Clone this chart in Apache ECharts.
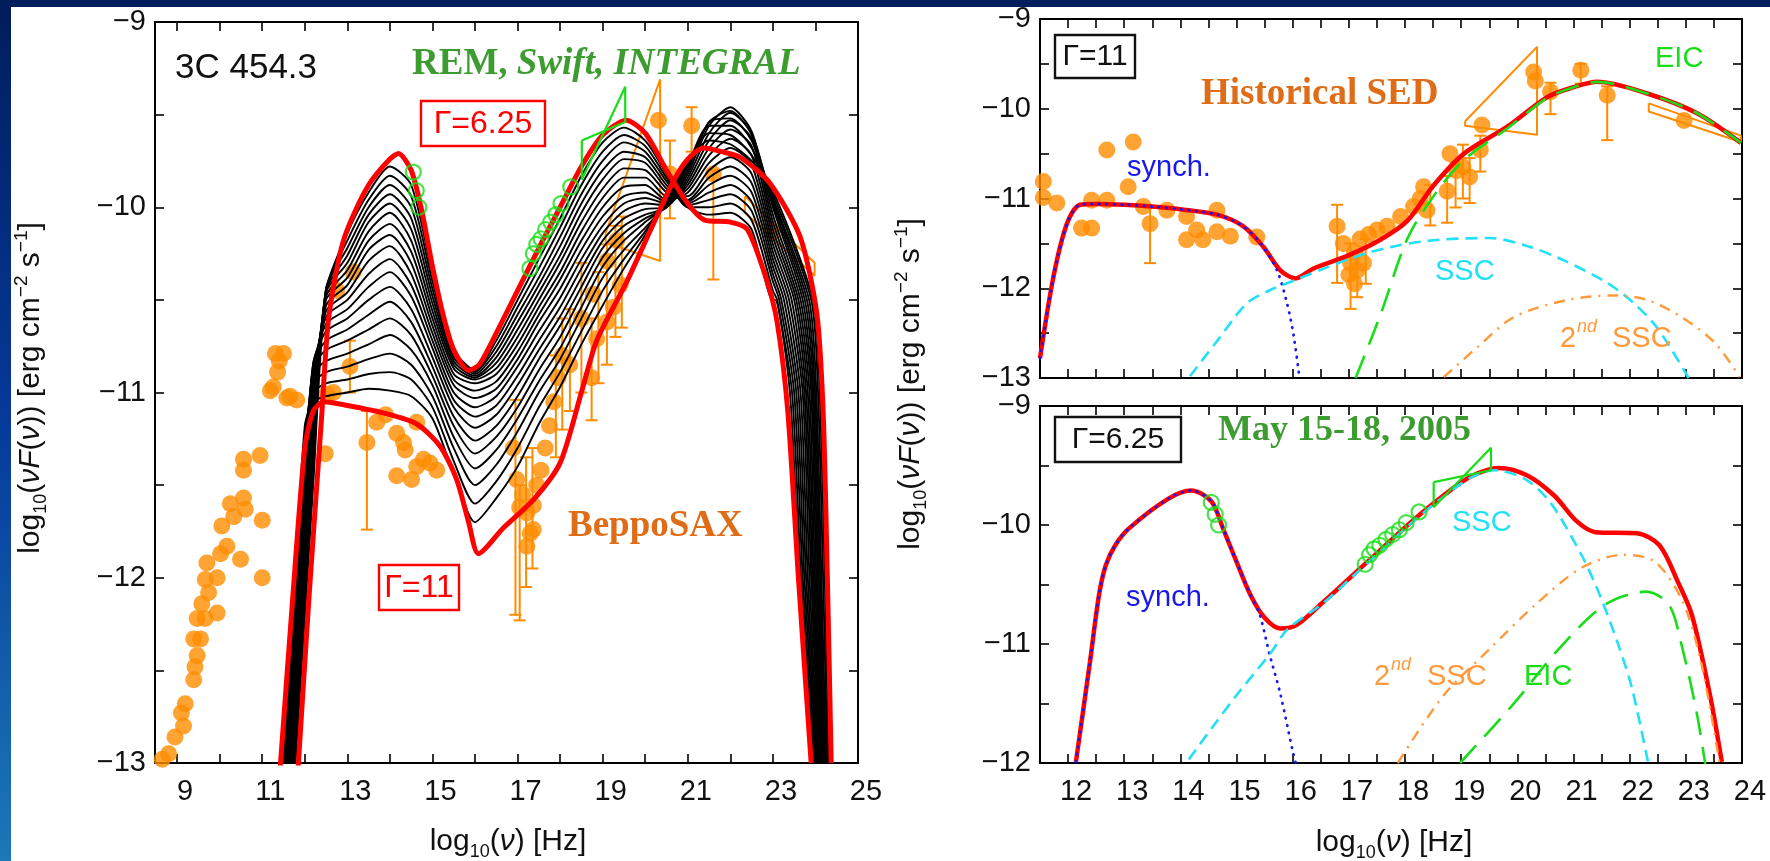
<!DOCTYPE html>
<html><head><meta charset="utf-8">
<script src="https://cdn.jsdelivr.net/npm/echarts@6/dist/echarts.min.js"></script>
<style>html,body{margin:0;padding:0;background:#fff;}#c{width:1770px;height:861px;}</style>
</head><body><div id="c"></div>
<script>
// ---------------- DATA ----------------
// Left panel axis ticks
const LEFT_X_TICKS = [9,10,11,12,13,14,15,16,17,18,19,20,21,22,23,24,25];
const LEFT_X_LABELS = [9,11,13,15,17,19,21,23,25];

// Black model curves (left panel): common x grid + per-curve y, then tail crossing points
const BLACK_X = [11.4,11.7,12.0,12.2,12.5,13.0,13.5,14.0,14.5,15.0,15.5,16.0,16.5,17.0,17.5,18.0,18.5,19.0,19.5,20.0,20.5,21.0,21.5,22.0,22.5,23.0];
const BLACK_CURVES_Y = [
 [-14.37,-13.29,-12.21,-11.49,-10.45,-10.14,-9.92,-9.78,-9.88,-10.36,-10.77,-10.88,-10.72,-10.5,-10.28,-10.06,-9.83,-9.65,-9.57,-9.64,-9.82,-10.0,-10.04,-10.03,-10.12,-10.5],
 [-14.3,-13.22,-12.14,-11.42,-10.44,-10.18,-9.96,-9.83,-9.94,-10.4,-10.79,-10.89,-10.75,-10.54,-10.33,-10.11,-9.88,-9.7,-9.61,-9.67,-9.84,-10.0,-10.0,-9.98,-10.07,-10.45],
 [-14.22,-13.14,-12.06,-11.34,-10.44,-10.22,-10.0,-9.88,-10.0,-10.44,-10.81,-10.9,-10.78,-10.58,-10.38,-10.16,-9.93,-9.75,-9.65,-9.7,-9.86,-9.99,-9.96,-9.93,-10.02,-10.4],
 [-14.15,-13.07,-11.99,-11.27,-10.45,-10.26,-10.04,-9.93,-10.06,-10.48,-10.83,-10.91,-10.81,-10.62,-10.42,-10.21,-9.98,-9.8,-9.7,-9.73,-9.88,-9.98,-9.92,-9.88,-9.97,-10.36],
 [-14.08,-13.0,-11.92,-11.2,-10.46,-10.3,-10.08,-9.98,-10.12,-10.52,-10.85,-10.92,-10.84,-10.66,-10.46,-10.26,-10.03,-9.85,-9.74,-9.76,-9.9,-9.97,-9.88,-9.83,-9.92,-10.32],
 [-14.01,-12.93,-11.85,-11.13,-10.48,-10.34,-10.13,-10.03,-10.18,-10.56,-10.87,-10.93,-10.87,-10.7,-10.5,-10.3,-10.08,-9.9,-9.79,-9.8,-9.92,-9.96,-9.84,-9.78,-9.87,-10.28],
 [-13.97,-12.89,-11.81,-11.09,-10.5,-10.38,-10.18,-10.09,-10.24,-10.6,-10.9,-10.95,-10.9,-10.74,-10.54,-10.35,-10.13,-9.95,-9.84,-9.84,-9.94,-9.94,-9.8,-9.73,-9.82,-10.24],
 [-13.9,-12.82,-11.74,-11.03,-10.53,-10.42,-10.23,-10.15,-10.3,-10.64,-10.93,-10.99,-10.94,-10.78,-10.58,-10.39,-10.18,-10.0,-9.89,-9.88,-9.96,-9.92,-9.76,-9.68,-9.77,-10.2],
 [-13.83,-12.75,-11.67,-10.97,-10.56,-10.46,-10.29,-10.21,-10.36,-10.68,-10.96,-11.03,-10.98,-10.82,-10.62,-10.44,-10.23,-10.05,-9.94,-9.92,-9.97,-9.9,-9.72,-9.63,-9.72,-10.16],
 [-13.79,-12.71,-11.63,-10.93,-10.59,-10.5,-10.36,-10.28,-10.42,-10.72,-11.0,-11.08,-11.02,-10.86,-10.67,-10.49,-10.28,-10.1,-9.98,-9.95,-9.98,-9.88,-9.68,-9.58,-9.67,-10.12],
 [-13.72,-12.64,-11.56,-10.87,-10.63,-10.55,-10.43,-10.35,-10.48,-10.76,-11.04,-11.13,-11.07,-10.91,-10.72,-10.54,-10.33,-10.14,-10.02,-9.98,-9.99,-9.86,-9.64,-9.53,-9.63,-10.08],
 [-13.65,-12.57,-11.49,-10.84,-10.67,-10.6,-10.5,-10.43,-10.55,-10.81,-11.08,-11.19,-11.12,-10.96,-10.77,-10.59,-10.38,-10.18,-10.06,-10.01,-10.0,-9.84,-9.6,-9.49,-9.6,-10.04],
 [-13.61,-12.53,-11.45,-10.84,-10.72,-10.66,-10.58,-10.51,-10.62,-10.86,-11.13,-11.26,-11.18,-11.02,-10.82,-10.64,-10.43,-10.22,-10.1,-10.04,-10.0,-9.82,-9.56,-9.46,-9.59,-10.0],
 [-13.54,-12.46,-11.38,-10.86,-10.77,-10.72,-10.66,-10.6,-10.69,-10.91,-11.18,-11.33,-11.24,-11.08,-10.88,-10.7,-10.48,-10.27,-10.14,-10.06,-10.0,-9.8,-9.54,-9.48,-9.61,-9.98],
 [-13.5,-12.42,-11.34,-10.9,-10.83,-10.79,-10.74,-10.69,-10.77,-10.96,-11.24,-11.41,-11.31,-11.14,-10.94,-10.76,-10.54,-10.32,-10.18,-10.08,-9.99,-9.78,-9.54,-9.52,-9.64,-9.96],
 [-13.43,-12.35,-11.27,-10.95,-10.89,-10.86,-10.82,-10.79,-10.85,-11.02,-11.3,-11.5,-11.39,-11.21,-11.0,-10.82,-10.6,-10.38,-10.23,-10.11,-9.98,-9.77,-9.56,-9.56,-9.68,-9.95],
 [-13.4,-12.31,-11.23,-11.0,-10.95,-10.93,-10.9,-10.89,-10.93,-11.08,-11.37,-11.6,-11.48,-11.3,-11.08,-10.89,-10.67,-10.45,-10.28,-10.13,-9.97,-9.76,-9.6,-9.61,-9.72,-9.93],
 [-13.36,-12.28,-11.18,-11.05,-11.02,-11.0,-10.98,-10.99,-11.02,-11.14,-11.44,-11.7,-11.57,-11.4,-11.17,-10.97,-10.74,-10.53,-10.33,-10.15,-9.95,-9.75,-9.64,-9.66,-9.75,-9.91]
];
const TAIL_Y = [-10.5,-11,-12,-13];
const BLACK_TAIL_X = [
 [23.05,23.4,23.62,23.92],[23.1,23.45,23.66,23.95],[23.15,23.5,23.7,23.97],[23.2,23.55,23.74,24.0],
 [23.26,23.6,23.78,24.02],[23.32,23.65,23.82,24.04],[23.38,23.7,23.86,24.06],[23.44,23.74,23.9,24.08],
 [23.5,23.78,23.93,24.1],[23.55,23.82,23.96,24.12],[23.6,23.86,23.99,24.14],[23.65,23.9,24.02,24.16],
 [23.7,23.93,24.05,24.18],[23.75,23.96,24.08,24.2],[23.8,23.99,24.11,24.22],[23.85,24.02,24.14,24.25],
 [23.9,24.06,24.18,24.28],[23.94,24.1,24.22,24.31]
];

// Red model curves, left panel
const RED625_X = [11.4,11.85,12.1,12.39,12.55,12.8,13.0,13.5,14.0,14.2,14.5,14.75,15.0,15.25,15.5,15.85,16.1,16.5,17.0,17.5,18.0,18.5,19.0,19.55,20.0,20.5,21.0,21.4,22.0,22.4,22.85,23.1,23.35,23.6,23.9];
const RED625_Y = [-14.6,-13.0,-12.1,-11.15,-10.62,-10.28,-10.12,-9.88,-9.74,-9.71,-9.8,-10.02,-10.32,-10.58,-10.77,-10.88,-10.85,-10.68,-10.45,-10.22,-10.0,-9.78,-9.61,-9.53,-9.6,-9.8,-9.98,-10.07,-10.08,-10.12,-10.39,-10.62,-11.1,-12.0,-13.0];
const RED11_X = [11.3,11.43,11.7,12.0,12.2,12.45,13.0,13.84,14.63,15.18,15.57,15.85,16.08,16.67,17.37,18.0,18.5,18.86,19.57,20.19,20.66,21.0,21.37,21.8,22.23,22.93,23.64,24.03,24.18,24.28,24.37];
const RED11_Y = [-13.4,-13.0,-12.16,-11.3,-11.1,-11.05,-11.07,-11.11,-11.17,-11.29,-11.47,-11.7,-11.87,-11.73,-11.58,-11.38,-11.0,-10.72,-10.4,-10.09,-9.86,-9.74,-9.68,-9.7,-9.73,-9.87,-10.16,-10.57,-11.1,-12.0,-13.0];

// Observed data, left panel
const LEFT_POINTS = [
 [8.65,-12.98],[8.8,-12.95],[8.95,-12.86],[9.1,-12.73],[9.15,-12.8],[9.19,-12.68],[9.39,-12.55],[9.42,-12.48],[9.47,-12.42],
 [9.39,-12.33],[9.55,-12.33],[9.47,-12.22],[9.66,-12.22],[9.58,-12.14],[9.94,-12.19],[9.74,-12.08],[9.66,-12.01],[9.94,-12.0],
 [9.7,-11.92],[10.02,-11.87],[10.17,-11.83],[10.49,-11.9],[10.05,-11.72],[10.33,-11.67],[10.25,-11.6],[10.56,-11.57],[10.6,-11.63],
 [11.0,-11.69],[11.0,-12.0],[10.56,-11.36],[10.56,-11.42],[10.95,-11.34],[11.19,-10.99],[11.31,-10.79],[11.4,-10.83],[11.36,-10.89],
 [11.58,-11.03],[11.5,-10.79],[11.26,-10.97],[11.65,-11.02],[11.81,-11.04],
 [12.52,-11.01],[12.48,-11.33],[12.75,-10.45],[13.14,-10.35],[12.67,-11.0],[13.06,-10.86],[13.46,-11.27],[13.69,-11.16],[14.16,-11.22],
 [14.36,-11.31],[14.63,-11.16],[14.79,-11.36],[14.16,-11.45],[14.51,-11.47],[14.94,-11.38],[15.1,-11.42],[14.63,-11.4],[14.32,-11.27],[13.9,-11.12],
 [16.9,-11.3],[16.98,-11.47],[17.05,-11.62],[17.12,-11.55],[17.22,-11.65],[17.22,-11.83],[17.3,-11.76],[17.37,-11.61],[17.37,-11.74],
 [17.45,-11.5],[17.55,-11.42],[17.65,-11.3],[17.75,-11.18],[17.85,-11.05],[17.95,-10.92],[18.05,-10.8],[18.23,-10.85],[18.5,-10.6],
 [18.74,-10.92],[18.78,-10.47],[18.86,-10.71],[19.1,-10.62],[19.1,-10.29],[19.25,-10.54],[19.33,-10.18],[19.41,-10.42],
 [20.31,-9.53],[21.09,-9.56],[20.58,-9.82],[21.6,-9.82],[22.97,-10.13]
];
const LEFT_ERRORS = [
 [13.46,-11.74,-11.1],[13.06,-11.0,-10.72],[16.95,-12.2,-11.04],[17.05,-12.23,-11.5],[17.2,-12.05,-11.35],[17.35,-11.95,-11.3],
 [17.9,-11.35,-10.8],[18.05,-11.2,-10.6],[18.23,-11.1,-10.55],[18.5,-11.0,-10.3],[18.74,-11.15,-10.6],[18.9,-10.95,-10.35],
 [19.1,-10.85,-10.2],[19.3,-10.7,-10.1],[19.45,-10.65,-10.05],[20.58,-10.06,-9.64],[21.09,-9.7,-9.46],[21.6,-10.39,-9.8]
];
const BOWTIE_GAMMA = [[19.07,-10.14],[20.35,-9.31],[20.35,-10.29],[19.07,-10.19],[19.07,-10.14]];
const BOWTIE_HIGH = [[22.34,-9.94],[23.98,-10.3],[23.98,-10.37],[22.34,-10.03],[22.34,-9.94]];

// Simultaneous data (May 2005)
const GREEN_CIRCLES = [[14.55,-9.81],[14.62,-9.91],[14.68,-10.0],[17.29,-10.33],[17.37,-10.25],[17.45,-10.2],[17.55,-10.17],[17.66,-10.12],[17.78,-10.08],[17.9,-10.04],[18.02,-9.98],[18.25,-9.89]];
const GREEN_BOWTIE = [[18.51,-9.64],[19.53,-9.54],[19.53,-9.35],[18.51,-9.85],[18.51,-9.64]];

// Top-right panel (Gamma = 11, historical SED)
const TR_TOTAL_X = [11.5,11.74,11.98,12.21,12.5,13.0,13.5,14.0,14.65,15.12,15.48,15.78,16.05,16.37,16.97,17.56,18.04,18.5,19.05,19.82,20.53,21.0,21.42,22.31,23.2,23.98];
const TR_TOTAL_Y = [-12.78,-11.87,-11.28,-11.07,-11.06,-11.07,-11.09,-11.12,-11.18,-11.31,-11.54,-11.8,-11.89,-11.78,-11.64,-11.46,-11.25,-10.86,-10.5,-10.2,-9.87,-9.76,-9.7,-9.83,-10.05,-10.38];
const TR_SYN_X = [11.5,11.74,11.98,12.21,12.5,13.0,13.5,14.0,14.65,15.12,15.45,15.72,15.9,16.02,16.12];
const TR_SYN_Y = [-12.78,-11.87,-11.28,-11.07,-11.06,-11.07,-11.09,-11.12,-11.18,-11.31,-11.52,-11.8,-12.17,-12.54,-13.0];
const TR_SSC_X = [14.17,14.7,15.18,15.6,16.08,16.6,17.26,17.9,18.6,19.5,20.23,20.83,21.6,22.08,22.5,23.05];
const TR_SSC_Y = [-12.98,-12.55,-12.17,-12.02,-11.9,-11.77,-11.62,-11.52,-11.46,-11.44,-11.54,-11.69,-11.94,-12.17,-12.45,-13.0];
const TR_EIC_X = [17.12,17.56,18.04,18.5,19.05,19.82,20.53,21.0,21.42,22.31,23.2,23.98];
const TR_EIC_Y = [-13.0,-12.3,-11.45,-10.98,-10.57,-10.22,-9.88,-9.76,-9.7,-9.83,-10.05,-10.38];
const TR_SSC2_X = [18.69,19.3,19.94,20.89,21.72,22.31,22.92,23.52,23.96];
const TR_SSC2_Y = [-12.99,-12.65,-12.32,-12.13,-12.08,-12.13,-12.32,-12.61,-12.99];
const TR_POINTS = [
 [11.56,-10.81],[11.56,-10.99],[11.8,-11.05],[12.24,-11.33],[12.42,-11.33],[12.42,-11.02],[12.69,-11.02],[12.69,-10.46],[13.16,-10.37],
 [13.07,-10.87],[13.34,-11.09],[13.46,-11.28],[13.76,-11.13],[14.11,-11.2],[14.11,-11.46],[14.29,-11.35],[14.4,-11.46],[14.65,-11.13],
 [14.65,-11.37],[14.89,-11.42],[15.36,-11.43],[16.79,-11.31],[16.9,-11.5],[17.03,-11.72],[17.15,-11.8],[17.26,-11.72],[17.1,-11.6],
 [17.0,-11.85],[17.1,-11.95],[17.2,-11.45],[17.35,-11.4],[17.5,-11.35],[17.68,-11.31],[17.92,-11.2],[18.15,-11.09],[18.33,-10.87],
 [18.27,-11.0],[18.39,-11.13],[18.75,-10.92],[18.8,-10.5],[18.92,-10.69],[19.03,-10.65],[19.15,-10.76],[19.34,-10.46],[19.37,-10.18],
 [20.29,-9.59],[20.32,-9.69],[20.59,-9.81],[21.13,-9.57],[21.6,-9.85],[22.97,-10.13]
];
const TR_ERRORS = [
 [13.46,-11.72,-11.1],[16.79,-11.94,-11.07],[17.03,-12.23,-11.5],[17.15,-12.1,-11.6],[17.3,-11.95,-11.45],[18.45,-11.3,-10.85],
 [18.75,-11.27,-10.75],[18.9,-11.1,-10.6],[19.03,-11.0,-10.4],[19.15,-11.05,-10.55],[19.34,-10.7,-10.3],[20.59,-10.06,-9.71],
 [21.13,-9.72,-9.5],[21.6,-10.35,-9.75]
];

// Bottom-right panel (Gamma = 6.25, May 2005)
const BR_TOTAL_X = [12.14,12.39,12.55,12.67,12.84,13.08,13.78,14.19,14.55,14.76,15.0,15.25,15.5,15.78,16.07,16.56,17.05,17.54,18.12,18.69,19.18,19.67,20.16,20.65,21.06,21.39,22.13,22.53,22.86,23.11,23.43,23.64];
const BR_TOTAL_Y = [-11.99,-11.15,-10.59,-10.34,-10.17,-10.03,-9.78,-9.71,-9.8,-10.03,-10.31,-10.59,-10.78,-10.87,-10.84,-10.64,-10.43,-10.22,-9.97,-9.75,-9.59,-9.52,-9.58,-9.75,-9.97,-10.06,-10.07,-10.17,-10.48,-10.76,-11.43,-11.99];
const BR_SYN_X = [12.14,12.39,12.55,12.67,12.84,13.08,13.78,14.19,14.55,14.76,15.0,15.25,15.41,15.59,15.78,16.0,16.08];
const BR_SYN_Y = [-11.99,-11.15,-10.59,-10.34,-10.17,-10.03,-9.78,-9.71,-9.8,-10.03,-10.31,-10.59,-10.75,-11.09,-11.42,-11.9,-12.05];
const BR_SSC_X = [14.15,14.6,15.0,15.6,15.9,16.56,17.05,17.54,18.12,18.69,19.18,19.6,20.16,20.6,21.14,21.47,21.8,22.04,22.33];
const BR_SSC_Y = [-11.97,-11.68,-11.43,-11.08,-10.88,-10.65,-10.44,-10.23,-9.98,-9.76,-9.6,-9.54,-9.62,-9.82,-10.25,-10.59,-11.01,-11.37,-12.0];
const BR_SSC2_X = [17.87,18.69,19.51,20.32,21.14,21.88,22.45,22.94,23.27,23.6];
const BR_SSC2_Y = [-12.0,-11.43,-11.04,-10.67,-10.36,-10.25,-10.31,-10.64,-11.15,-12.0];
const BR_EIC_X = [18.98,19.92,20.74,21.56,22.29,22.7,22.94,23.19,23.36];
const BR_EIC_Y = [-12.0,-11.51,-11.04,-10.67,-10.56,-10.67,-11.04,-11.57,-12.05];

// ---------------- STYLE ----------------
const ORANGE = '#ff8c00', RED = '#ff0000', GREENC = '#19dd19', CYAN = '#22e0f5', BLUE = '#1818ee', ORANGE2 = '#ff9a3c';
const SANS = '"Liberation Sans", Arial, Helvetica, sans-serif';
const SERIF = '"Liberation Serif", "Times New Roman", serif';

function zip(xs, ys){ return xs.map((x,i)=>[x, ys[i]]); }
function fmtNum(v){ if (Math.abs(v-Math.round(v))>1e-6) return ''; const r=Math.round(v); return r<0 ? '\u2212'+(-r) : String(r); }
const TICK_FONT = {fontFamily: SANS, fontSize: 29, color: '#111'};
function axisLineCfg(){ return {show:true, onZero:false, lineStyle:{color:'#000', width:2}}; }
function tickCfg(extra){ return Object.assign({show:true, inside:true, length:9, lineStyle:{color:'#000', width:1.6}}, extra||{}); }

function xAxisCfg(gi, min, max, pos, showLab, extraTick, extraLab, interval){
  const a = {type:'value', gridIndex:gi, min, max, position:pos,
    axisLine:axisLineCfg(), axisTick:tickCfg(extraTick), splitLine:{show:false},
    axisLabel:Object.assign({show:showLab, margin:14, formatter:fmtNum, padding:[0,0,0,16]}, TICK_FONT, extraLab||{})};
  if (interval) a.interval = interval;
  return a;
}
function yAxisCfg(gi, min, max, pos, showLab){
  return {type:'value', gridIndex:gi, min, max, interval:0.5, position:pos,
    axisLine:axisLineCfg(), axisTick:tickCfg(), splitLine:{show:false},
    axisLabel:Object.assign({show:showLab, margin:9, formatter:fmtNum}, TICK_FONT)};
}

const xAxes = [
  xAxisCfg(0, 8.48, 25, 'bottom', true, {customValues:LEFT_X_TICKS}, {customValues:LEFT_X_LABELS}),
  xAxisCfg(0, 8.48, 25, 'top', false, {customValues:LEFT_X_TICKS}, {customValues:LEFT_X_LABELS}),
  xAxisCfg(1, 11.5, 24, 'bottom', false, null, null, 0.5),
  xAxisCfg(1, 11.5, 24, 'top', false, null, null, 0.5),
  xAxisCfg(2, 11.5, 24, 'bottom', true, null, null, 0.5),
  xAxisCfg(2, 11.5, 24, 'top', false, null, null, 0.5)
];
const yAxes = [
  yAxisCfg(0, -13, -9, 'left', true), yAxisCfg(0, -13, -9, 'right', false),
  yAxisCfg(1, -13, -9, 'left', true), yAxisCfg(1, -13, -9, 'right', false),
  yAxisCfg(2, -12, -9, 'left', true), yAxisCfg(2, -12, -9, 'right', false)
];

function lineS(xi, data, color, width, type, z, smooth, extra){
  return Object.assign({type:'line', xAxisIndex:xi, yAxisIndex:xi, data, symbol:'none', showSymbol:false,
    smooth: smooth===undefined?0.3:smooth, clip:true, silent:true, z,
    lineStyle:{color, width, type:type||'solid', cap:'butt'}}, extra||{});
}
function scatterS(xi, data, size, z){
  return {type:'scatter', xAxisIndex:xi, yAxisIndex:xi, data, symbol:'circle', symbolSize:size, clip:true, silent:true, z,
    itemStyle:{color:ORANGE}};
}
function circlesS(xi, data, z){
  return {type:'scatter', xAxisIndex:xi, yAxisIndex:xi, data, symbol:'circle', symbolSize:15, clip:true, silent:true, z,
    itemStyle:{color:'rgba(255,255,255,0)', borderColor:GREENC, borderWidth:2.2}};
}
function errS(xi, data, z){
  return {type:'custom', xAxisIndex:xi, yAxisIndex:xi, data, clip:true, silent:true, z, encode:{x:0, y:[1,2]},
    renderItem(params, api){
      const x = api.value(0), a = api.coord([x, api.value(1)]), b = api.coord([x, api.value(2)]);
      const st = {stroke:ORANGE, lineWidth:2};
      return {type:'group', children:[
        {type:'line', shape:{x1:a[0],y1:a[1],x2:b[0],y2:b[1]}, style:st},
        {type:'line', shape:{x1:a[0]-6,y1:a[1],x2:a[0]+6,y2:a[1]}, style:st},
        {type:'line', shape:{x1:b[0]-6,y1:b[1],x2:b[0]+6,y2:b[1]}, style:st}
      ]};
    }};
}

const series = [];
// left panel
series.push(errS(0, LEFT_ERRORS, 1));
series.push(scatterS(0, LEFT_POINTS, 17, 2));
series.push(lineS(0, BOWTIE_GAMMA, ORANGE, 2, 'solid', 2, false));
series.push(lineS(0, BOWTIE_HIGH, ORANGE, 2, 'solid', 2, false));
BLACK_CURVES_Y.forEach((ys, i) => {
  const pts = zip(BLACK_X, ys);
  BLACK_TAIL_X[i].forEach((x, j) => pts.push([x, TAIL_Y[j]]));
  series.push(lineS(0, pts, '#000', 1.9, 'solid', 3, 0.25));
});
series.push(lineS(0, zip(RED625_X, RED625_Y), RED, 5, 'solid', 4, 0.25));
series.push(lineS(0, zip(RED11_X, RED11_Y), RED, 5, 'solid', 4, 0.25));
series.push(circlesS(0, GREEN_CIRCLES, 6));
series.push(lineS(0, GREEN_BOWTIE, GREENC, 2.2, 'solid', 6, false));
// top-right
series.push(errS(2, TR_ERRORS, 1));
series.push(scatterS(2, TR_POINTS, 17, 2));
series.push(lineS(2, BOWTIE_GAMMA, ORANGE, 2, 'solid', 2, false));
series.push(lineS(2, BOWTIE_HIGH, ORANGE, 2, 'solid', 2, false));
series.push(lineS(2, zip(TR_TOTAL_X, TR_TOTAL_Y), RED, 4.5, 'solid', 4, 0.3));
series.push(lineS(2, zip(TR_SYN_X, TR_SYN_Y), BLUE, 2.6, [1,6], 5, 0.3, {lineStyle:{color:BLUE, width:2.8, type:[0.5,7], cap:'round'}}));
series.push(lineS(2, zip(TR_SSC_X, TR_SSC_Y), CYAN, 2.6, [12,7], 5, 0.3));
series.push(lineS(2, zip(TR_EIC_X, TR_EIC_Y), GREENC, 2.6, [24,12], 5, 0.3));
series.push(lineS(2, zip(TR_SSC2_X, TR_SSC2_Y), ORANGE2, 2.4, [11,7,2,7], 5, 0.3));
// bottom-right
series.push(lineS(4, zip(BR_TOTAL_X, BR_TOTAL_Y), RED, 4.5, 'solid', 4, 0.3));
series.push(lineS(4, zip(BR_SYN_X, BR_SYN_Y), BLUE, 2.6, [1,6], 5, 0.3, {lineStyle:{color:BLUE, width:2.8, type:[0.5,7], cap:'round'}}));
series.push(lineS(4, zip(BR_SSC_X, BR_SSC_Y), CYAN, 2.6, [12,7], 5, 0.3));
series.push(lineS(4, zip(BR_SSC2_X, BR_SSC2_Y), ORANGE2, 2.4, [11,7,2,7], 5, 0.3));
series.push(lineS(4, zip(BR_EIC_X, BR_EIC_Y), GREENC, 2.6, [24,12], 5, 0.3));
series.push(circlesS(4, GREEN_CIRCLES, 6));
series.push(lineS(4, GREEN_BOWTIE, GREENC, 2.2, 'solid', 6, false));

// ---------------- TEXT / DECORATION ----------------
function txt(x, y, text, size, fill, opts){
  return Object.assign({type:'text', x, y, z:100, silent:true,
    style:Object.assign({text, fill, fontFamily:SANS, fontSize:size, align:'left', verticalAlign:'middle'}, (opts&&opts.style)||{})},
    opts&&opts.el||{});
}
function box(x, y, w, h, color){
  return {type:'rect', z:99, silent:true, shape:{x, y, width:w, height:h}, style:{fill:'rgba(0,0,0,0)', stroke:color, lineWidth:2.4}};
}
const YTITLE_RICH = {
  n:{fontFamily:SANS, fontSize:30, fill:'#111', lineHeight:38},
  i:{fontFamily:SANS, fontSize:30, fontStyle:'italic', fill:'#111', lineHeight:38},
  s:{fontFamily:SANS, fontSize:18, fill:'#111', verticalAlign:'bottom', lineHeight:38},
  p:{fontFamily:SANS, fontSize:19, fill:'#111', verticalAlign:'top', lineHeight:38}
};
const YTITLE = '{n|log}{s|10}{n|(}{i|\u03bdF}{n|(}{i|\u03bd}{n|)) [erg cm}{p|\u22122}{n| s}{p|\u22121}{n|]}';
const XTITLE = '{n|log}{s|10}{n|(}{i|\u03bd}{n|) [Hz]}';
function rtxt(x, y, text, rot){
  return {type:'text', x, y, rotation:rot||0, z:100, silent:true,
    style:{text, rich:YTITLE_RICH, align:'center', verticalAlign:'middle', fill:'#111'}};
}
const GREEN_T = '#3c9c30', ORANGE_T = '#df6c17';
const elements = [
  {type:'rect', z:0, silent:true, shape:{x:0, y:0, width:1770, height:7}, style:{fill:'#001d5c'}},
  {type:'rect', z:0, silent:true, shape:{x:0, y:0, width:11, height:861},
   style:{fill:{type:'linear', x:0, y:0, x2:0, y2:1, colorStops:[{offset:0,color:'#001d5c'},{offset:0.5,color:'#063a9c'},{offset:1,color:'#1c78b6'}]}}},
  rtxt(31, 388, YTITLE, Math.PI/2),
  rtxt(911, 384, YTITLE, Math.PI/2),
  rtxt(508, 842, XTITLE, 0),
  rtxt(1394, 843, XTITLE, 0),
  // left panel annotations
  txt(175, 68, '3C 454.3', 35, '#111'),
  {type:'text', x:412, y:64, z:100, silent:true, style:{text:'{a|REM, }{b|Swift, INTEGRAL}', verticalAlign:'middle',
    rich:{a:{fontFamily:SERIF, fontWeight:'bold', fontSize:37, fill:GREEN_T}, b:{fontFamily:SERIF, fontWeight:'bold', fontStyle:'italic', fontSize:37, fill:GREEN_T}}}},
  box(421, 101, 124, 45, RED), txt(483, 124, '\u0393=6.25', 32, RED, {style:{align:'center'}}),
  box(379, 565, 80, 45, RED), txt(419, 588, '\u0393=11', 32, RED, {style:{align:'center'}}),
  txt(568, 526, 'BeppoSAX', 37, ORANGE_T, {style:{fontFamily:SERIF, fontWeight:'bold'}}),
  // top-right annotations
  box(1055, 35, 80, 43, '#111'), txt(1095, 57, '\u0393=11', 30, '#111', {style:{align:'center'}}),
  txt(1201, 94, 'Historical SED', 37, ORANGE_T, {style:{fontFamily:SERIF, fontWeight:'bold'}}),
  txt(1127, 168, 'synch.', 29, BLUE),
  txt(1435, 272, 'SSC', 29, CYAN),
  txt(1560, 339, '2', 29, ORANGE2), txt(1577, 327, 'nd', 18, ORANGE2, {style:{fontStyle:'italic'}}),
  txt(1612, 339, 'SSC', 29, ORANGE2),
  txt(1655, 59, 'EIC', 29, GREENC),
  // bottom-right annotations
  box(1055, 417, 126, 45, '#111'), txt(1118, 440, '\u0393=6.25', 30, '#111', {style:{align:'center'}}),
  txt(1218, 431, 'May 15-18, 2005', 36, GREEN_T, {style:{fontFamily:SERIF, fontWeight:'bold'}}),
  txt(1452, 523, 'SSC', 29, CYAN),
  txt(1126, 598, 'synch.', 29, BLUE),
  txt(1374, 677, '2', 29, ORANGE2), txt(1391, 665, 'nd', 18, ORANGE2, {style:{fontStyle:'italic'}}),
  txt(1427, 677, 'SSC', 29, ORANGE2),
  txt(1524, 677, 'EIC', 29, GREENC)
];

const chart = echarts.init(document.getElementById('c'), null, {renderer:'canvas', width:1770, height:861});
chart.setOption({
  animation:false,
  backgroundColor:'#ffffff',
  grid:[
    {left:155, top:22, width:703, height:741, containLabel:false, outerBoundsMode:'none'},
    {left:1040, top:19, width:702, height:359, containLabel:false, outerBoundsMode:'none'},
    {left:1040, top:406, width:702, height:357, containLabel:false, outerBoundsMode:'none'}
  ],
  xAxis:xAxes, yAxis:yAxes, series, graphic:{elements}
});
</script></body></html>
